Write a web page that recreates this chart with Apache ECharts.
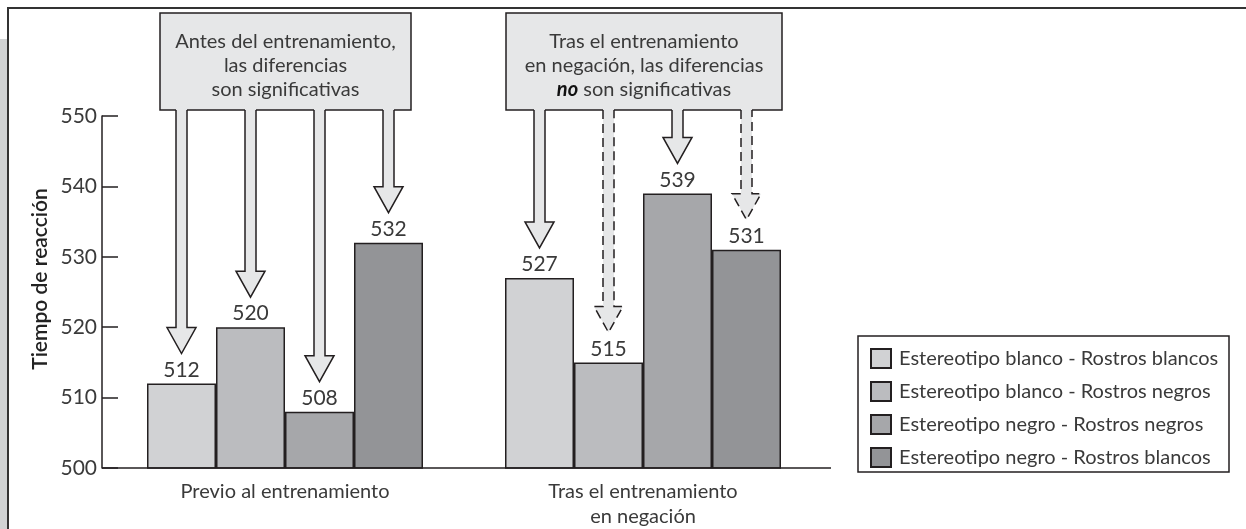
<!DOCTYPE html>
<html>
<head>
<meta charset="utf-8">
<script src="https://cdn.jsdelivr.net/npm/echarts@6/dist/echarts.min.js"></script>
<style>
  html, body { margin: 0; padding: 0; background: #fff; }
  #chart { width: 1246px; height: 529px; }
</style>
</head>
<body>
<div id="chart"></div>
<script>
// datos
const categories = ['Previo al entrenamiento', 'Tras el entrenamiento\nen negación']
const seriesNames = [
  'Estereotipo blanco - Rostros blancos',
  'Estereotipo blanco - Rostros negros',
  'Estereotipo negro - Rostros negros',
  'Estereotipo negro - Rostros blancos',
]
const blancoBlancos = [512, 527]
const blancoNegros = [520, 515]
const negroNegros = [508, 539]
const negroBlancos = [532, 531]
const yTicks = [500, 510, 520, 530, 540, 550]
// flechas discontinuas = diferencia no significativa
const dashedArrows = [
  [false, false, false, false],
  [false, true, false, true],
]
const notes = [
  'Antes del entrenamiento,\nlas diferencias\nson significativas',
  'Tras el entrenamiento\nen negación, las diferencias\n{b|no} son significativas',
]

const FONT = 'Lato, "Open Sans", sans-serif'
const INK = '#231f20'
const TXT = '#3a3a3a'
const BOX = '#e6e7e8'
const colors = ['#d1d2d4', '#bbbcbf', '#a6a7aa', '#939497']
const values = [blancoBlancos, blancoNegros, negroNegros, negroBlancos]
const BAR_W = 69

const chart = echarts.init(document.getElementById('chart'), null, { renderer: 'canvas' })

chart.setOption({
  animation: false,
  backgroundColor: '#fff',
  grid: { left: 106, right: 424, top: 116, bottom: 57 },
  legend: {
    orient: 'vertical',
    left: 870,
    top: 348,
    padding: 0,
    itemWidth: 20,
    itemHeight: 19,
    itemGap: 12,
    icon: 'rect',
    selectedMode: false,
    textStyle: { fontFamily: FONT, fontSize: 20, color: TXT, padding: [0, 0, 0, 3] },
    data: seriesNames,
  },
  xAxis: {
    type: 'category',
    data: categories,
    axisLine: { show: false },
    axisTick: { show: false },
    axisLabel: { fontFamily: FONT, fontSize: 20, color: TXT, margin: 11, lineHeight: 25 },
  },
  yAxis: {
    type: 'value',
    min: yTicks[0],
    max: yTicks[yTicks.length - 1],
    interval: 10,
    offset: 4,
    axisLine: { show: true, lineStyle: { color: INK, width: 1.5 } },
    axisTick: { show: true, inside: true, length: 16, lineStyle: { color: INK, width: 1.5 } },
    axisLabel: { fontFamily: FONT, fontSize: 21, color: TXT, margin: 5 },
    splitLine: { show: false },
  },
  series: seriesNames.map((name, i) => ({
    name,
    type: 'bar',
    data: values[i],
    barWidth: BAR_W,
    barGap: '0%',
    itemStyle: { color: colors[i], borderColor: INK, borderWidth: 1.5 },
    label: {
      show: true,
      position: 'top',
      distance: 3,
      fontFamily: FONT,
      fontSize: 21,
      color: TXT,
    },
  })),
})

// elementos gráficos: marco, caja de leyenda, cajas de notas y flechas
const g = []
let z = 10
function add(el) { el.z = z++; g.push(el) }

// marco
add({ type: 'rect', shape: { x: 0, y: 39, width: 7, height: 490 }, style: { fill: '#d1d3d4' } })
add({ type: 'polyline', shape: { points: [[8, 529], [8, 8], [1246, 8]] }, style: { stroke: '#333', lineWidth: 2, fill: null } })

// línea base del eje x
const base = chart.convertToPixel({ yAxisIndex: 0 }, yTicks[0])
add({ type: 'line', shape: { x1: 102, y1: base, x2: 831, y2: base }, style: { stroke: INK, lineWidth: 1.5 } })

// caja de la leyenda
add({ type: 'rect', shape: { x: 858, y: 336, width: 371, height: 136 }, style: { fill: null, stroke: INK, lineWidth: 1.5 } })

// título del eje y
add({
  type: 'text', x: 40, y: 279, rotation: Math.PI / 2,
  style: { text: 'Tiempo de reacción', font: `600 21px ${FONT}`, fill: '#222', align: 'center', verticalAlign: 'middle' },
})

const boxes = [
  { x: 160, w: 251 },
  { x: 506, w: 276 },
]
const BOX_TOP = 13
const BOX_BOT = 110

boxes.forEach((b, c) => {
  add({ type: 'rect', shape: { x: b.x, y: BOX_TOP, width: b.w, height: BOX_BOT - BOX_TOP }, style: { fill: BOX, stroke: INK, lineWidth: 1.5 } })
  add({
    type: 'text', x: b.x + b.w / 2, y: 66,
    style: {
      text: notes[c], font: `20px ${FONT}`, fill: TXT, align: 'center', verticalAlign: 'middle', lineHeight: 24,
      rich: { b: { font: `italic bold 20px ${FONT}`, fill: '#111', lineHeight: 24 } },
    },
  })
  const center = chart.convertToPixel({ xAxisIndex: 0 }, categories[c])
  values.forEach((vals, i) => {
    const cx = center + (i - 1.5) * BAR_W
    const tip = chart.convertToPixel({ yAxisIndex: 0 }, vals[c]) - 30
    const hw = 5.5, hh = 14.5, hl = 26
    const dashed = dashedArrows[c][i]
    add({
      type: 'polygon',
      shape: { points: [[cx - hw, BOX_BOT - 2], [cx + hw, BOX_BOT - 2], [cx + hw, tip - hl], [cx + hh, tip - hl], [cx, tip], [cx - hh, tip - hl], [cx - hw, tip - hl]] },
      style: { fill: BOX },
    })
    add({
      type: 'polyline',
      shape: { points: [[cx - hw, BOX_BOT], [cx - hw, tip - hl], [cx - hh, tip - hl], [cx, tip], [cx + hh, tip - hl], [cx + hw, tip - hl], [cx + hw, BOX_BOT]] },
      style: { stroke: INK, lineWidth: 1.5, fill: null, lineDash: dashed ? [9, 5] : null },
    })
  })
})

chart.setOption({ graphic: g })
</script>
</body>
</html>
